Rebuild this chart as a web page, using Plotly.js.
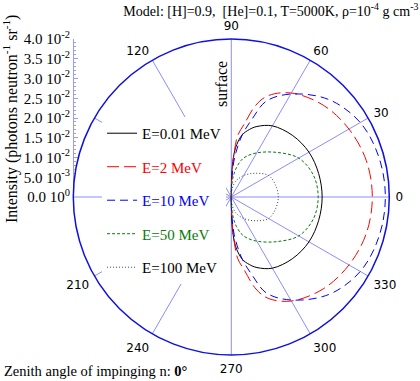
<!DOCTYPE html>
<html>
<head>
<meta charset="utf-8">
<script src="https://cdn.plot.ly/plotly-3.0.1.min.js"></script>
<style>
  html, body { margin: 0; padding: 0; background: #fff; }
  #chart { width: 420px; height: 381px; }
</style>
</head>
<body>
<div id="chart"></div>
<script>
// polar angle of emission (deg), same grid for every energy
var angles = [-90, -89.5, -88, -86, -84, -80, -75, -70, -60, -45, -30, -15, 0,
              15, 30, 45, 60, 70, 75, 80, 84, 86, 88, 89.5, 90];

// intensity (photons neutron^-1 sr^-1)
var e001 = [0, 0.0030, 0.0081, 0.0114, 0.0134, 0.0160, 0.0177, 0.0190, 0.0208, 0.0220, 0.0227, 0.0229, 0.0230,
            0.0229, 0.0227, 0.0220, 0.0208, 0.0190, 0.0177, 0.0160, 0.0134, 0.0114, 0.0081, 0.0030, 0];
var e2   = [0, 0.0020, 0.0068, 0.0119, 0.0157, 0.0187, 0.0241, 0.0273, 0.0304, 0.0329, 0.0344, 0.0354, 0.0357,
            0.0354, 0.0344, 0.0329, 0.0304, 0.0273, 0.0241, 0.0187, 0.0157, 0.0119, 0.0068, 0.0020, 0];
var e10  = [0, 0.0015, 0.0053, 0.0089, 0.0114, 0.0160, 0.0205, 0.0258, 0.0301, 0.0349, 0.0377, 0.0387, 0.0390,
            0.0387, 0.0377, 0.0349, 0.0301, 0.0258, 0.0205, 0.0160, 0.0114, 0.0089, 0.0053, 0.0015, 0];
var e50  = [0, 0.0008, 0.0025, 0.0043, 0.0056, 0.0076, 0.0096, 0.0109, 0.0129, 0.0160, 0.0197, 0.0215, 0.0220,
            0.0215, 0.0197, 0.0160, 0.0129, 0.0109, 0.0096, 0.0076, 0.0056, 0.0043, 0.0025, 0.0008, 0];
var e100 = [0, 0.0003, 0.0009, 0.0015, 0.0020, 0.0030, 0.0041, 0.0048, 0.0063, 0.0085, 0.0109, 0.0116, 0.0119,
            0.0116, 0.0109, 0.0085, 0.0063, 0.0048, 0.0041, 0.0030, 0.0020, 0.0015, 0.0009, 0.0003, 0];

var angTicks = [0, 30, 60, 90, 120, 150, 180, 210, 240, 270, 300, 330];
var angText  = ['0', '30', '60', '90', '120', '', '', '210', '240', '270', '300', '330'];

var radTicks = [0, 0.005, 0.01, 0.015, 0.02, 0.025, 0.03, 0.035, 0.04];
var radText  = ['0.0 10<sup>0</sup>', '5.0 10<sup>-3</sup>', '1.0 10<sup>-2</sup>', '1.5 10<sup>-2</sup>',
                '2.0 10<sup>-2</sup>', '2.5 10<sup>-2</sup>', '3.0 10<sup>-2</sup>', '3.5 10<sup>-2</sup>',
                '4.0 10<sup>-2</sup>'];

var serif = '"Liberation Serif", "Times New Roman", serif';

var mkTrace = function(r, name, color, dash, grp){
  return {
    type: 'scatterpolar',
    r: r,
    theta: angles,
    mode: 'lines',
    name: name,
    legendgroup: grp,
    line: {color: color, width: 1, dash: dash, shape: 'spline', smoothing: 1},
    hoverinfo: 'skip'
  };
};

var data = [
  mkTrace(e001, 'E=0.01 MeV', '#000000', 'solid', 'a'),
  mkTrace(e2, '<span style="color:#ff0000">E=2 MeV</span>', '#ff0000', '12px,5px', 'b'),
  mkTrace(e10, '<span style="color:#0000ff">E=10 MeV</span>', '#0000ff', '8px,5px', 'c'),
  mkTrace(e50, '<span style="color:#0a7a0a">E=50 MeV</span>', '#0a7a0a', '3px,2px', 'd'),
  mkTrace(e100, 'E=100 MeV', '#444444', '1px,2px', 'e'),
  // empty trace so the cartesian intensity axis gets drawn
  {type: 'scatter', x: [null], y: [null], xaxis: 'x', yaxis: 'y', showlegend: false, hoverinfo: 'skip'}
];

var layout = {
  width: 420,
  height: 381,
  margin: {l: 0, r: 0, t: 0, b: 0},
  paper_bgcolor: '#ffffff',
  plot_bgcolor: 'rgba(0,0,0,0)',
  font: {family: serif, size: 15, color: '#000'},
  title: {
    text: 'Model: [H]=0.9,  [He]=0.1, T=5000K, \u03c1=10<sup>-4</sup> g cm<sup>-3</sup>',
    font: {family: serif, size: 14, color: '#000'},
    x: 0.996, xanchor: 'right', xref: 'container',
    y: 0.985, yanchor: 'top', yref: 'container'
  },
  showlegend: true,
  legend: {
    x: 0.243, xanchor: 'left',
    y: 0.693, yanchor: 'top',
    bgcolor: '#ffffff',
    borderwidth: 0,
    font: {family: serif, size: 15, color: '#000'},
    tracegroupgap: 11,
    traceorder: 'grouped'
  },
  polar: {
    domain: {x: [0.1745, 0.9269], y: [0.0682, 0.8976]},
    bgcolor: '#ffffff',
    radialaxis: {range: [0, 0.04], visible: false, showgrid: false},
    angularaxis: {
      rotation: 0,
      direction: 'counterclockwise',
      tickmode: 'array',
      tickvals: angTicks,
      ticktext: angText,
      ticks: 'outside',
      ticklen: 3,
      tickcolor: 'rgba(0,0,0,0)',
      showline: true,
      linecolor: '#1010e0',
      linewidth: 1.5,
      showgrid: true,
      gridcolor: '#8c8cff',
      gridwidth: 1,
      tickfont: {family: '"DejaVu Sans", sans-serif', size: 12, color: '#000'}
    }
  },
  xaxis: {domain: [0.176, 0.3], range: [0, 1], visible: false, fixedrange: true},
  yaxis: {
    domain: [0.4829, 0.8976],
    range: [0, 0.04],
    anchor: 'x',
    side: 'left',
    showgrid: false,
    zeroline: false,
    showline: true,
    linecolor: '#9a9aff',
    linewidth: 1,
    ticks: 'inside',
    ticklen: 4,
    tickcolor: '#9a9aff',
    tickmode: 'array',
    tickvals: radTicks,
    ticktext: radText,
    tickfont: {family: serif, size: 15, color: '#000'},
    minor: {dtick: 0.001, ticks: 'inside', ticklen: 2, tickcolor: '#9a9aff'},
    automargin: false
  },
  annotations: [
    {
      // y axis title placed by hand so it sits at the very left edge
      text: 'Intensity (photons neutron<sup>-1</sup> sr<sup>-1</sup>)', textangle: -90,
      xref: 'paper', yref: 'paper',
      x: 10 / 420, xanchor: 'center',
      y: 1 - 119 / 381, yanchor: 'middle',
      showarrow: false,
      font: {family: serif, size: 16, color: '#000'}
    },
    {
      text: 'surface', textangle: -90,
      xref: 'paper', yref: 'paper',
      x: 221 / 420, xanchor: 'center',
      y: 1 - 84 / 381, yanchor: 'middle',
      showarrow: false,
      font: {family: serif, size: 16, color: '#000'}
    },
    {
      text: 'Zenith angle of impinging n: <b>0\u00b0</b>',
      xref: 'paper', yref: 'paper',
      x: 0.005, xanchor: 'left',
      y: 1 - 371 / 381, yanchor: 'middle',
      showarrow: false,
      font: {family: serif, size: 14.5, color: '#000'}
    }
  ]
};

Plotly.newPlot('chart', data, layout, {displayModeBar: false, staticPlot: true});
</script>
</body>
</html>
